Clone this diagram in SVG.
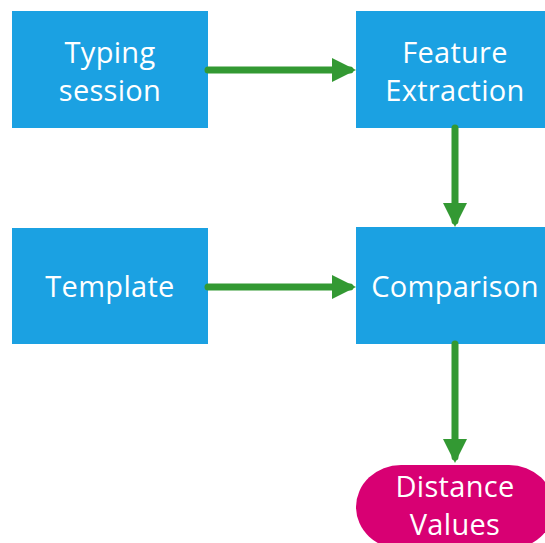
<svg xmlns="http://www.w3.org/2000/svg" width="545" height="543" viewBox="0 0 545 543">
  <style>
    .box { fill: #1ba1e2; }
    .term { fill: #d80073; }
    .label { font-family: "Open Sans", "Noto Sans", sans-serif; font-size: 29px; fill: #ffffff; text-anchor: middle; letter-spacing: 0.3px; }
    .flow { stroke: #339933; stroke-width: 7; stroke-linecap: round; fill: none; }
  </style>
  <defs>
    <marker id="head" viewBox="0 0 24 24" refX="18" refY="12" markerWidth="24" markerHeight="24" markerUnits="userSpaceOnUse" orient="auto">
      <path d="M0,0 L24,12 L0,24 Z" fill="#339933"/>
    </marker>
  </defs>

  <g id="typing-session">
    <rect class="box" x="12" y="11" width="196" height="117"/>
    <text class="label" x="110" y="63">Typing</text>
    <text class="label" x="110" y="101">session</text>
  </g>

  <g id="feature-extraction">
    <rect class="box" x="356" y="11" width="198" height="117"/>
    <text class="label" x="455" y="63">Feature</text>
    <text class="label" x="455" y="101">Extraction</text>
  </g>

  <g id="template">
    <rect class="box" x="12" y="228" width="196" height="116"/>
    <text class="label" x="110" y="297">Template</text>
  </g>

  <g id="comparison">
    <rect class="box" x="356" y="227" width="198" height="117"/>
    <text class="label" x="455" y="297">Comparison</text>
  </g>

  <g id="distance-values">
    <rect class="term" x="356" y="465" width="198" height="84" rx="45" ry="42"/>
    <text class="label" x="455" y="497">Distance</text>
    <text class="label" x="455" y="535">Values</text>
  </g>

  <g id="connectors">
    <line class="flow" x1="208" y1="70" x2="350" y2="70" marker-end="url(#head)"/>
    <line class="flow" x1="455" y1="128" x2="455" y2="221" marker-end="url(#head)"/>
    <line class="flow" x1="208" y1="287" x2="350" y2="287" marker-end="url(#head)"/>
    <line class="flow" x1="455" y1="344" x2="455" y2="457" marker-end="url(#head)"/>
  </g>
</svg>
